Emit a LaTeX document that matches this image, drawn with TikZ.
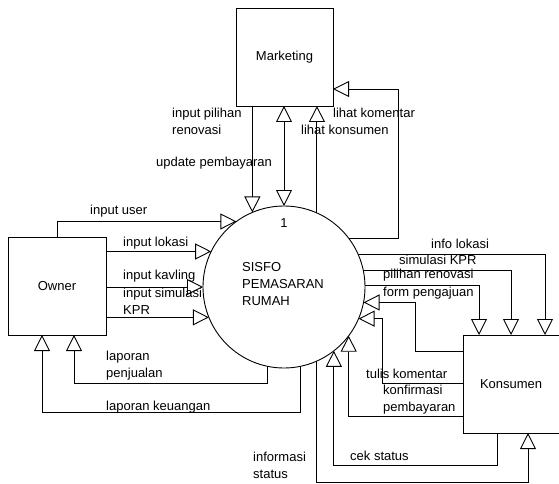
\documentclass[tikz,border=0pt]{standalone}
\usepackage{fontspec}
\setmainfont{Liberation Sans}
\usetikzlibrary{arrows.meta}
\begin{document}
\begin{tikzpicture}[x=1pt,y=-1pt,
  every node/.style={font=\fontsize{13}{17}\selectfont},
  entity/.style={draw, line width=0.9pt, rectangle, inner sep=0pt, outer sep=0pt},
  proc/.style={draw, line width=0.9pt, circle, minimum size=162pt, inner sep=0pt, outer sep=0pt},
  flow/.style={draw, line width=0.9pt, -{Triangle[open,length=16pt,width=16pt]}},
  bflow/.style={draw, line width=0.9pt, {Triangle[open,length=16pt,width=16pt]}-{Triangle[open,length=16pt,width=16pt]}},
  lbl/.style={anchor=west, inner sep=0pt, align=left}]
\useasboundingbox (0,0) rectangle (559,484);
% entities and process
\node[entity, minimum width=97pt, minimum height=98pt] (mkt) at (284.5,57) {Marketing};
\node[entity, minimum width=98pt, minimum height=98pt] (own) at (57,286) {Owner};
\node[entity, minimum width=98pt, minimum height=98pt, text width=96pt, align=left] (kon) at (512,384) {\hspace*{16pt}Konsumen};
\node[proc] (sys) at (284,287) {};
\node (num) at (284,223) {1};
\node[lbl] (sysname) at (242,284) {SISFO\\PEMASARAN\\RUMAH};
% Marketing flows
\draw[flow] (mkt.south -| sys.113.3) -- (sys.113.3);
\draw[bflow] (mkt.south -| sys.north) -- (sys.north);
\draw[flow] (sys.66) -- (sys.66 |- mkt.south);
\draw[flow] (sys.37.2) -| (398,89) -- (mkt.south east |- 398,89);
% Owner flows
\draw[flow] (own.north) |- (sys.126.6);
\draw[flow] (own.east |- sys.154.4) -- (sys.154.4);
\draw[flow] (own.east |- sys.west) -- (sys.west);
\draw[flow] (own.east |- sys.202.5) -- (sys.202.5);
\draw[flow] (sys.258.6) |- (74,383) -- (own.south -| 74,0);
\draw[flow] (sys.282.1) |- (42,412) -- (own.south -| 42,0);
% Konsumen flows
\draw[flow] (sys.1) -| (kon.north -| 479,0);
\draw[flow] (sys.12.1) -| (kon.north -| 511,0);
\draw[flow] (sys.24.8) -| (kon.north -| 545,0);
\draw[flow] (kon.west |- 0,351) -| (sys.349.3 -| 415,0) -- (sys.349.3);
\draw[flow] (kon.west |- 0,383) -| (sys.337.5 -| 382,0) -- (sys.337.5);
\draw[flow] (kon.west |- 0,416) -| (sys.323.4);
\draw[flow] (kon.south -| 497,0) |- (sys.308.1 |- 0,465) -- (sys.308.1);
\draw[flow] (sys.294) |- (528,482) -- (kon.south -| 528,0);
% labels
\node[lbl] (l1) at (172,121.5) {input pilihan\\renovasi};
\node[lbl] (l2) at (156,163) {update pembayaran};
\node[lbl] (l3) at (333,113) {lihat komentar};
\node[lbl] (l4) at (301,130) {lihat konsumen};
\node[lbl] (l5) at (90,211) {input user};
\node[lbl] (l6) at (123,243) {input lokasi};
\node[lbl] (l7) at (123,276) {input kavling};
\node[lbl] (l8) at (123,301) {input simulasi\\KPR};
\node[lbl] (l9) at (106,365.5) {laporan\\penjualan};
\node[lbl] (l10) at (106,407) {laporan keuangan};
\node[lbl] (l11) at (431,244) {info lokasi};
\node[lbl] (l12) at (399,260) {simulasi KPR};
\node[lbl] (l13) at (383,275) {pilihan renovasi};
\node[lbl] (l14) at (383,293) {form pengajuan};
\node[lbl] (l15) at (366,374) {tulis komentar};
\node[lbl] (l16) at (383,399.5) {konfirmasi\\pembayaran};
\node[lbl] (l17) at (350,456) {cek status};
\node[lbl] (l18) at (253,465.5) {informasi\\status};
\end{tikzpicture}
\end{document}
